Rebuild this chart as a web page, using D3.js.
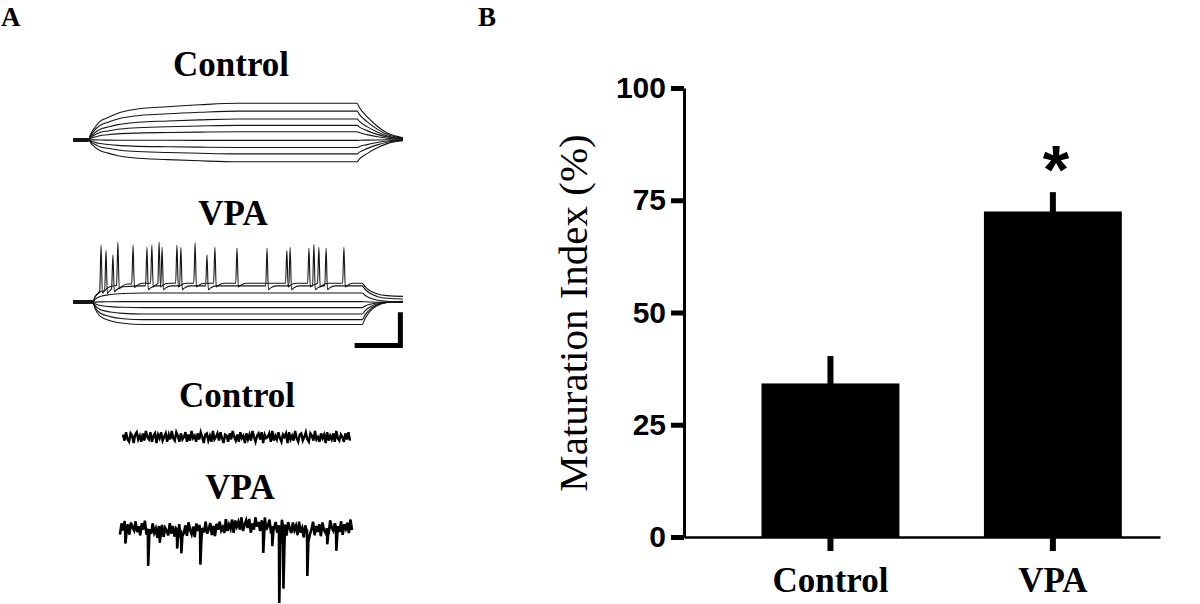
<!DOCTYPE html>
<html>
<head>
<meta charset="utf-8">
<script src="https://cdn.jsdelivr.net/npm/d3@7"></script>
<style>
  html, body { margin: 0; padding: 0; background: #fff; }
  svg { display: block; }
</style>
</head>
<body>
<svg id="chart"></svg>
<script>
// ================= DATA =================
// Panel B (bar chart)
const categories = ["Control", "VPA"];
const meanValues = [34.2, 72.5];      // Maturation index (%)
const semValues  = [6.1, 4.3];
const sigMarks   = ["", "*"];
const yTicks     = [0, 25, 50, 75, 100];
const yLabel     = "Maturation Index (%)";
const panelLetters = ["A", "B"];
const panelATitles = ["Control", "VPA", "Control", "VPA"];

// Panel A, current-clamp traces (times in ms, potentials in mV)
const ctrlRest        = -70;
const ctrlStep        = [45, 861];                       // onset / offset
const ctrlStepLevels  = [-19, -30, -41, -50, -59, -71, -81, -90, -101];
const ctrlRestJitter  = [-2, -1.5, -1, -0.5, 0, 0.5, 1, 1.5, 2];
const ctrlChargeT     = [0, 9, 18, 36, 61, 91, 136, 242, 339, 455];
const ctrlChargeF     = [0, 0.2, 0.33, 0.52, 0.63, 0.74, 0.83, 0.91, 0.96, 1];
const ctrlDecayT      = [0, 6, 30, 61, 91, 139];
const ctrlDecayF      = [1, 0.9, 0.65, 0.4, 0.22, 0.1];

const vpaRest         = -65;
const vpaStep         = [58, 876];
const vpaStepLevels   = [-38, -42, -52, -64, -73, -82, -90, -97];
const vpaPostLevels   = [-56, -60, -64, -65, -65, -65, -65, -65];
const vpaRestJitter   = [-2, -1.5, -1, -0.5, 0.5, 1, 1.5, 2];
const vpaChargeT      = [0, 9, 24, 55, 94, 155];
const vpaChargeF      = [0, 0.35, 0.65, 0.84, 0.95, 1];
const vpaDecayT       = [0, 9, 24, 45, 76, 124];
const vpaDecayF       = [1, 0.75, 0.45, 0.22, 0.08, 0.03];
// action potentials: time (ms), peak (mV), trace index
const spikeTimes  = [85, 100, 121, 136, 182, 224, 239, 261, 270, 315, 327, 370, 406, 430, 497, 588, 648, 658, 715, 730, 745, 767, 821];
const spikePeaks  = [11, 4, -2, 15, 11, 8, 11, 15, 8, 11, 8, 14, -2, 8, 7, 7, 4, 8, 7, 12, 8, 7, 8];
const spikeTrace  = [0, 1, 1, 0, 0, 1, 0, 0, 1, 0, 1, 0, 1, 0, 0, 1, 0, 1, 0, 1, 0, 1, 0];
const spikeShapeT   = [-4, 0, 4, 10, 28];
const spikeShapeAhp = [0, 0, -5, -3, 0];
// scale bar (ms, mV)
const scaleBarTime = 131;
const scaleBarVolt = 41;

// Panel A, voltage-clamp (spontaneous currents), pA, normalized time 0..1
const ctrlNoise = [2,-3,4,-2,-4,3,1,-5,2,4,-2,1,-4,3,-3,5,0,-2,4,-4,1,3,-5,2,-1,4,-3,0,3,-4,
  2,-2,5,-1,-3,4,1,-4,3,-2,0,4,-4,2,-3,5,-1,1,-4,3,-2,4,0,-5,2,3,-3,1,-4,5,
  -2,0,3,-3,4,-1,-5,2,1,-4,3,-2,5,0,-3,2,-4,4,-1,1,-5,3,-2,2,-3,5,0,-4,1,3,
  -2,4,-5,2,-1,0,3,-4,5,-3,1,-2,4,-1,-4,2,0,3,-5,4,-2,1,-3,5,-1,-4,2,3,-3,0,
  4,-2,-4,3,1,-3,5,-2,0,-4,3,-1,2,-5,4,-3,1,-2,3,-4,5,-1,-3,2,0,-4,3,-2,4,-3];
const vpaNoise = [-3,4,-1,5,-4,2,-5,3,0,-2,4,-3,1,-5,3,-1,5,-4,2,0,-3,4,-2,1,-5,3,-1,4,-4,2,
  0,-3,5,-2,3,-4,1,-1,4,-5,2,-2,3,-4,5,0,-3,2,-5,4,-1,3,-4,1,-2,5,-3,0,4,-4,
  2,-5,3,-1,4,-2,0,-4,5,-3,1,-2,4,-5,3,-1,2,-3,5,-4,0,3,-2,4,-5,1,-3,5,-1,2,
  -4,3,-2,5,-3,0,4,-5,2,-1,3,-4,1,-2,5,-3,2,-5,4,0,-3,4,-1,2,-4,5,-2,1,-5,3,
  -1,4,-3,0,5,-4,2,-2,3,-5,4,-1,-3,2,-4,5,0,-2,3,-4,1,-3,4,-5,2,-1,3,-4,5,-2];
const vpaDriftT = [0, 0.04, 0.1, 0.18, 0.28, 0.4, 0.5, 0.62, 0.72, 0.8, 0.9, 1];
const vpaDriftV = [-2, 1, 0, -3, -2, -1, 3, 3, 0, -2, 0, 1];
const eventTimes = [0.022, 0.12, 0.17, 0.245, 0.263, 0.345, 0.616, 0.655, 0.685, 0.703, 0.806, 0.892, 0.931];
const eventAmps  = [15, 37, 12, 18, 23, 35, 28, 20, 76, 61, 46, 16, 23];

// ================= DRAW =================
const W = 1200, H = 604;
const svg = d3.select("#chart").attr("width", W).attr("height", H);
const serif = "'Liberation Serif', 'Times New Roman', serif";
const sans  = "'Liberation Sans', Arial, sans-serif";

// ---------- Panel letters ----------
svg.selectAll("text.letter").data(panelLetters).join("text")
  .attr("class", "letter")
  .attr("x", (d, i) => i === 0 ? 1 : 478)
  .attr("y", 26)
  .attr("font-family", serif).attr("font-weight", "bold").attr("font-size", 27)
  .text(d => d);

// ---------- Panel A ----------
const xA = d3.scaleLinear().domain([0, 1000]).range([73, 403]);
const pxPerMv = 0.75;
const yCtrl = d3.scaleLinear().domain([ctrlRest, 0]).range([140, 140 - (-ctrlRest) * pxPerMv]);
const yVpa  = d3.scaleLinear().domain([vpaRest, 0]).range([302, 302 - (-vpaRest) * pxPerMv]);

const traceLine = (ys) => d3.line().x(d => xA(d[0])).y(d => ys(d[1])).curve(d3.curveMonotoneX);

// Control traces
function ctrlTrace(L, j) {
  const r = ctrlRest + j;
  const pts = [[0, r], [ctrlStep[0], r]];
  ctrlChargeT.forEach((t, k) => { if (k > 0) pts.push([ctrlStep[0] + t, r + (L - ctrlRest) * ctrlChargeF[k]]); });
  pts.push([ctrlStep[1], r + (L - ctrlRest)]);
  ctrlDecayT.forEach((t, k) => { if (k > 0) pts.push([ctrlStep[1] + t, r + (L - ctrlRest) * ctrlDecayF[k]]); });
  return pts;
}
const gCtrl = svg.append("g");
gCtrl.selectAll("path").data(ctrlStepLevels.map((L, i) => ctrlTrace(L, ctrlRestJitter[i]))).join("path")
  .attr("d", traceLine(yCtrl)).attr("fill", "none").attr("stroke", "#151515").attr("stroke-width", 1.1);

// VPA traces
const vpaChargeS = d3.scaleLinear().domain(vpaChargeT).range(vpaChargeF).clamp(true);
const vpaDecayS  = d3.scaleLinear().domain(vpaDecayT).range(vpaDecayF).clamp(true);
function vpaBase(i, t) {
  const L = vpaStepLevels[i], post = vpaPostLevels[i], r = vpaRest + vpaRestJitter[i];
  if (t <= vpaStep[0]) return r;
  if (t <= vpaStep[1]) return r + (L - vpaRest) * vpaChargeS(t - vpaStep[0]);
  return post + vpaRestJitter[i] + (L - post) * vpaDecayS(t - vpaStep[1]);
}
function vpaTrace(i) {
  let times = [0, vpaStep[0]];
  vpaChargeT.forEach(t => times.push(vpaStep[0] + t));
  d3.range(vpaStep[0] + 200, vpaStep[1], 40).forEach(t => times.push(t));
  times.push(vpaStep[1]);
  vpaDecayT.forEach(t => times.push(vpaStep[1] + t));
  const mySpikes = spikeTimes.map((t, k) => ({t, p: spikePeaks[k], tr: spikeTrace[k]})).filter(s => s.tr === i);
  times = times.filter(t => !mySpikes.some(s => t >= s.t + spikeShapeT[0] && t <= s.t + spikeShapeT[spikeShapeT.length - 1]));
  const pts = times.map(t => [t, vpaBase(i, t)]);
  mySpikes.forEach((s, k) => {
    const next = mySpikes[k + 1];
    spikeShapeT.forEach((dt, m) => {
      const t = s.t + dt;
      if (next && t >= next.t + spikeShapeT[0]) return;
      const v = m === 1 ? s.p : vpaBase(i, t) + spikeShapeAhp[m];
      pts.push([t, v]);
    });
  });
  pts.sort((a, b) => a[0] - b[0]);
  return pts;
}
const gVpa = svg.append("g");
gVpa.selectAll("path").data(vpaStepLevels.map((L, i) => vpaTrace(i))).join("path")
  .attr("d", traceLine(yVpa)).attr("fill", "none").attr("stroke", "#151515").attr("stroke-width", 1.1);

// scale bar
const sbT = 992, sbV = -123;
svg.append("path")
  .attr("d", `M${xA(sbT - scaleBarTime)},${yVpa(sbV)}H${xA(sbT)}V${yVpa(sbV + scaleBarVolt)}`)
  .attr("fill", "none").attr("stroke", "#000").attr("stroke-width", 5).attr("stroke-linecap", "square");

// voltage-clamp noise traces
const xNc = d3.scaleLinear().domain([0, 1]).range([123, 350]);
const xNv = d3.scaleLinear().domain([0, 1]).range([120, 352]);
const yNc = d3.scaleLinear().domain([0, 10]).range([437, 427]);
const yNv = d3.scaleLinear().domain([0, 10]).range([528, 518]);
const ctrlPts = ctrlNoise.map((v, k) => [k / (ctrlNoise.length - 1), v * 1.2]);
svg.append("path")
  .attr("d", d3.line().x(d => xNc(d[0])).y(d => yNc(d[1]))(ctrlPts))
  .attr("fill", "none").attr("stroke", "#000").attr("stroke-width", 2.4);

const drift = d3.scaleLinear().domain(vpaDriftT).range(vpaDriftV);
let vpaPts = vpaNoise.map((v, k) => { const t = k / (vpaNoise.length - 1); return [t, drift(t) + v * 1.5]; });
vpaPts = vpaPts.filter(p => !eventTimes.some(te => p[0] > te && p[0] < te + 0.007));
eventTimes.forEach((te, k) => {
  const b = drift(te);
  vpaPts.push([te, b], [te + 0.0015, b - eventAmps[k]], [te + 0.006, b - eventAmps[k] * 0.25]);
});
vpaPts.sort((a, b) => a[0] - b[0]);
svg.append("path")
  .attr("d", d3.line().x(d => xNv(d[0])).y(d => yNv(d[1]))(vpaPts))
  .attr("fill", "none").attr("stroke", "#000").attr("stroke-width", 2.6);
svg.append("path")
  .attr("d", d3.line().x(d => xNv(d[0])).y(d => yNv(d[1]))(vpaPts))
  .attr("fill", "none").attr("stroke", "#000").attr("stroke-width", 1);

// Panel A titles
const titlePos = [[231, 76], [233, 225], [237, 407], [240, 499]];
svg.selectAll("text.atitle").data(panelATitles).join("text")
  .attr("class", "atitle")
  .attr("x", (d, i) => titlePos[i][0]).attr("y", (d, i) => titlePos[i][1])
  .attr("text-anchor", "middle")
  .attr("font-family", serif).attr("font-weight", "bold").attr("font-size", 35)
  .text(d => d);

// ---------- Panel B ----------
const yB = d3.scaleLinear().domain([0, 100]).range([537, 88]);
const xB = d3.scaleBand().domain(categories).range([684, 1160])
  .paddingInner(0.38).paddingOuter(0.26).align(0.67);

const gB = svg.append("g");
gB.selectAll("rect.bar").data(categories).join("rect")
  .attr("class", "bar")
  .attr("x", d => xB(d)).attr("width", xB.bandwidth())
  .attr("y", (d, i) => yB(meanValues[i]))
  .attr("height", (d, i) => yB(0) - yB(meanValues[i]))
  .attr("fill", "#000");
gB.selectAll("line.err").data(categories).join("line")
  .attr("class", "err")
  .attr("x1", d => xB(d) + xB.bandwidth() / 2).attr("x2", d => xB(d) + xB.bandwidth() / 2)
  .attr("y1", (d, i) => yB(meanValues[i]) + 2)
  .attr("y2", (d, i) => yB(meanValues[i] + semValues[i]))
  .attr("stroke", "#000").attr("stroke-width", 6);
gB.selectAll("text.sig").data(categories).join("text")
  .attr("class", "sig")
  .attr("x", d => xB(d) + xB.bandwidth() / 2 + 3)
  .attr("y", (d, i) => yB(meanValues[i] + semValues[i]) + 1)
  .attr("text-anchor", "middle")
  .attr("font-family", sans).attr("font-weight", "bold").attr("font-size", 68)
  .text((d, i) => sigMarks[i]);

// y axis
const gy = svg.append("g").attr("transform", "translate(684,0)")
  .call(d3.axisLeft(yB).tickValues(yTicks).tickSize(13).tickSizeOuter(0).tickPadding(5));
gy.select(".domain").attr("stroke", "#000").attr("stroke-width", 3);
gy.selectAll(".tick line").attr("stroke", "#000").attr("stroke-width", 5);
gy.selectAll(".tick text").attr("fill", "#000")
  .attr("font-family", sans).attr("font-weight", "bold").attr("font-size", 30);

// x axis
const gx = svg.append("g").attr("transform", "translate(0,537)")
  .call(d3.axisBottom(xB).tickSize(14).tickSizeOuter(0));
gx.select(".domain").attr("stroke", "#000").attr("stroke-width", 2.5);
gx.selectAll(".tick line").attr("stroke", "#000").attr("stroke-width", 6);
gx.selectAll(".tick text").attr("fill", "#000").attr("y", 55).attr("dy", null)
  .attr("font-family", serif).attr("font-weight", "bold").attr("font-size", 35);

// y label
svg.append("text")
  .attr("transform", "translate(587,313) rotate(-90)")
  .attr("text-anchor", "middle")
  .attr("font-family", serif).attr("font-size", 41).attr("fill", "#000")
  .text(yLabel);
</script>
</body>
</html>
